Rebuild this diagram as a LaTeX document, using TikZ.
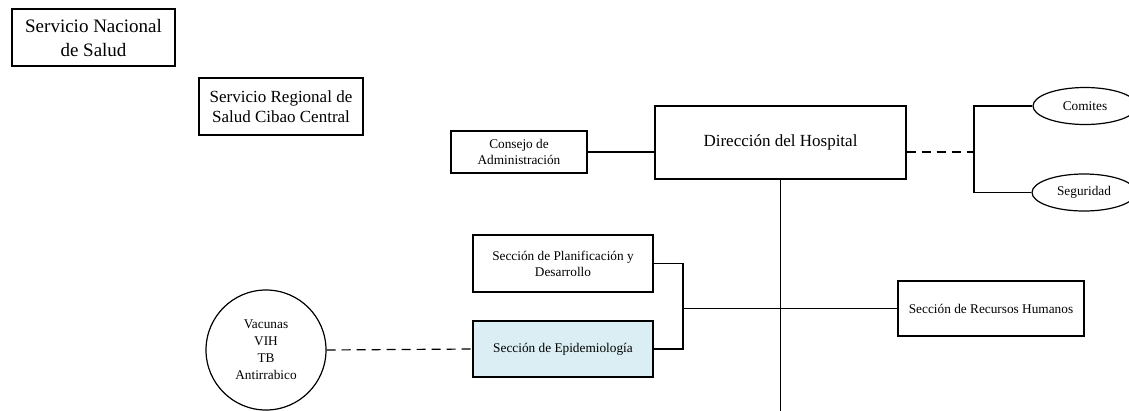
\documentclass[tikz,border=0pt]{standalone}
\usepackage{fontspec}
\setmainfont{Liberation Serif}
\usetikzlibrary{shapes.geometric}
\definecolor{epiazul}{RGB}{218,238,243}
\begin{document}
\begin{tikzpicture}[x=1pt,y=-1pt,line width=1.2pt,myb/.style={rectangle, draw, inner sep=0pt, align=center, font=\fontsize{13.3}{16}\selectfont},myb1/.style={rectangle, draw, inner sep=0pt, align=center, font=\fontsize{17}{20}\selectfont},mye/.style={ellipse, draw, inner sep=0pt, minimum width=104pt, minimum height=37pt, font=\fontsize{13.3}{16}\selectfont},myc/.style={circle, draw, inner sep=0pt, minimum size=120pt, align=center, font=\fontsize{13.3}{17}\selectfont},myd/.style={dash pattern=on 9pt off 6pt}]
  \useasboundingbox (0,0) rectangle (1129,410);

  \node[myb1, minimum width=163pt, minimum height=57pt, font=\fontsize{19}{24}\selectfont] (nacional) at (93.5,37.5) {Servicio Nacional\\de Salud};
  \node[myb1, minimum width=164pt, minimum height=57pt] (regional) at (281,106.5) {Servicio Regional de\\Salud Cibao Central};

  \node[myb, minimum width=136pt, minimum height=42pt] (consejo) at (519,152) {Consejo de\\Administración};
  \node[myb1, minimum width=251pt, minimum height=73pt] (direccion) at (780.5,142.5) {Dirección del Hospital};
  \node[mye] (comites) at (1085,106) {Comites};
  \node[mye] (seguridad) at (1084,192.5) {Seguridad};

  \node[myb, minimum width=180pt, minimum height=57pt] (plan) at (563,263.5) {Sección de Planificación y\\Desarrollo};
  \node[myb, minimum width=180pt, minimum height=56pt, fill=epiazul] (epi) at (563,349) {Sección de Epidemiología};
  \node[myb, minimum width=186pt, minimum height=55pt] (rrhh) at (991,308.5) {Sección de Recursos Humanos};
  \node[myc] (prog) at (266,350) {Vacunas\\VIH\\TB\\Antirrabico};

  \coordinate (ramal) at (974,152);
  \coordinate (union) at (683,308.5);
  \coordinate (fin) at (780.5,412);

    \draw (consejo) -- (consejo -| direccion.west);
    \draw[myd] (consejo -| direccion.east) -- (ramal);
    \draw (comites.west) -- (comites.west -| ramal) -- (seguridad.west -| ramal) -- (seguridad.west);
    \draw (direccion.south) -- (fin);
    \draw (plan.east) -| (union) |- (epi.east);
    \draw (union) -- (rrhh.west);
    \draw[myd] (prog.east) -- (epi.west);

\end{tikzpicture}
\end{document}
